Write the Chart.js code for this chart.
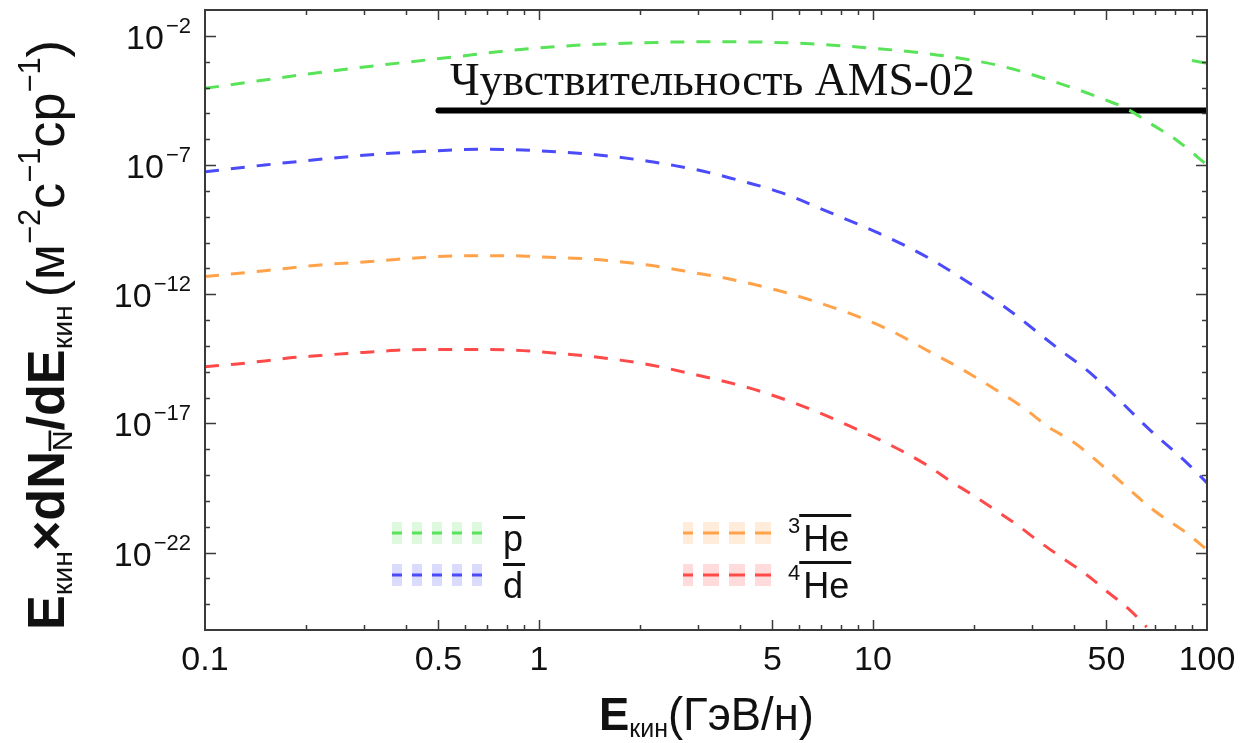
<!DOCTYPE html>
<html>
<head>
<meta charset="utf-8">
<script src="https://cdn.jsdelivr.net/npm/chart.js@4.4.1/dist/chart.umd.min.js"></script>
<style>
  html, body { margin: 0; padding: 0; background: #fff; }
  canvas { display: block; }
</style>
</head>
<body>
<canvas id="chart" width="1259" height="743"></canvas>
<script>
// ---------------------------
// Data
// ---------------------------
const xTickVals = [0.1, 0.5, 1, 5, 10, 50, 100];
const xTickText = ["0.1", "0.5", "1", "5", "10", "50", "100"];
const yLabelExps = [-2, -7, -12, -17, -22];

// antiproton
const pbarE = [0.1, 0.143, 0.202, 0.285, 0.40, 0.57, 0.77, 1.26, 2.06, 3.2, 5.5, 9.0, 14.8, 19.9, 24.2, 28.1, 33.9, 40.6, 48.8, 57.5, 68.9, 81.3, 100];
const pbarF = [9.3e-5, 1.78e-4, 3.3e-4, 5.75e-4, 9.5e-4, 1.58e-3, 2.5e-3, 4.2e-3, 5.4e-3, 5.9e-3, 5.4e-3, 3.7e-3, 2.0e-3, 1.12e-3, 6.8e-4, 4.0e-4, 1.9e-4, 8.7e-5, 3.6e-5, 1.5e-5, 3.5e-6, 8.9e-7, 1.0e-7];
// short green stub at the right edge
const pbarStubE = [90.2, 100];
const pbarStubF = [1.1e-3, 8.7e-4];

// antideuteron
const dbarE = [0.1, 0.151, 0.221, 0.323, 0.472, 0.689, 1.0, 1.45, 2.12, 2.49, 2.97, 3.73, 5.34, 7.38, 10.4, 14.7, 17.8, 24.8, 36.3, 43.7, 50.2, 67.5, 87.2, 100];
const dbarF = [5.5e-8, 1.0e-7, 1.66e-7, 2.57e-7, 3.47e-7, 4.07e-7, 3.55e-7, 2.57e-7, 1.41e-7, 1.0e-7, 6.5e-8, 3.16e-8, 8.3e-9, 1.5e-9, 2.3e-10, 2.5e-11, 5.5e-12, 3.2e-13, 6.9e-15, 1.15e-15, 2.3e-16, 5.5e-18, 2.9e-19, 4.9e-20];

// anti-helium-3
const he3E = [0.1, 0.151, 0.221, 0.323, 0.472, 0.689, 0.83, 1.0, 1.45, 2.12, 2.97, 3.6, 5.27, 7.97, 11.2, 14.8, 18.2, 24.2, 28.9, 33.5, 39.8, 52.3, 69.1, 87, 100];
const he3F = [4.8e-12, 8.1e-12, 1.35e-11, 1.9e-11, 2.75e-11, 3.1e-11, 3.1e-11, 2.8e-11, 2.24e-11, 1.35e-11, 6.5e-12, 4.2e-12, 1.32e-12, 2.45e-13, 4.1e-14, 5.8e-15, 1.38e-15, 1.48e-16, 3.2e-17, 7.2e-18, 1.9e-18, 1.0e-19, 4.4e-21, 5.6e-22, 1.26e-22];

// anti-helium-4
const he4E = [0.1, 0.125, 0.151, 0.183, 0.221, 0.266, 0.323, 0.389, 0.472, 0.57, 0.689, 0.83, 1.0, 1.21, 1.45, 1.75, 2.12, 2.5, 2.97, 4.28, 6.04, 8.53, 12.05, 14.5, 17.2, 19.9, 23.5, 27.3, 31.6, 37.0, 43.7, 50.2, 58.8, 66];
const he4F = [1.55e-15, 2.0e-15, 2.6e-15, 3.5e-15, 4.2e-15, 5.1e-15, 5.9e-15, 6.9e-15, 7.2e-15, 7.2e-15, 7.2e-15, 6.9e-15, 5.9e-15, 4.8e-15, 3.8e-15, 2.8e-15, 1.9e-15, 1.23e-15, 7.4e-16, 2.3e-16, 5.1e-17, 7.8e-18, 9.3e-19, 2.4e-19, 5.4e-20, 1.66e-20, 4.0e-21, 1.05e-21, 2.5e-22, 6.0e-23, 1.35e-23, 3.1e-24, 5.9e-25, 1.29e-25];

// AMS-02 sensitivity
const amsE = [0.5, 100];
const amsF = [1.3e-5, 1.3e-5];
const amsLabel = "Чувствительность AMS-02";
const amsLabelE = 0.541;
const amsLabelF = 5.1e-5;

// legend
const legendMain = ["p", "d", "He", "He"];
const legendSup = ["", "", "3", "4"];

// ---------------------------
// Styles
// ---------------------------
const GREEN = "#58e358";
const BLUE = "#4b4bfa";
const ORANGE = "#ffa24a";
const RED = "#ff4a4a";
const SANS = "'Liberation Sans', Arial, sans-serif";
const SERIF = "'Liberation Serif', 'Times New Roman', serif";

const pts = (xs, ys) => xs.map((x, i) => ({ x, y: ys[i] }));

function curve(data, color){
  return {
    data, borderColor: color, borderWidth: 3, borderDash: [14, 12],
    pointRadius: 0, cubicInterpolationMode: "monotone", fill: false
  };
}

// ---------------------------
// Helpers for rich text
// ---------------------------
function segFont(s, k){
  return `${s.b ? "bold " : ""}${(s.s * k).toFixed(2)}px ${SANS}`;
}

function richWidth(ctx, segs, k){
  let w = 0;
  for(const s of segs){
    ctx.font = segFont(s, k);
    w += ctx.measureText(s.t).width;
  }
  return w;
}

function drawRich(ctx, segs, k){
  let x = 0;
  for(const s of segs){
    ctx.font = segFont(s, k);
    const dy = (s.dy || 0) * k;
    ctx.fillText(s.t, x, dy);
    const m = ctx.measureText(s.t);
    if(s.over){
      ctx.fillRect(x, dy - m.actualBoundingBoxAscent - 4 * k, m.width, 2.2 * k);
    }
    x += m.width;
  }
}

const yTitle = [
  { t: "E", b: true, s: 44 },
  { t: "кин", s: 24, dy: 7 },
  { t: "×dN", b: true, s: 44 },
  { t: "N", s: 24, dy: 7, over: true },
  { t: "/dE", b: true, s: 44 },
  { t: "кин ", s: 24, dy: 7 },
  { t: "(м", s: 44 },
  { t: "−2", s: 26, dy: -20 },
  { t: "с", s: 44 },
  { t: "−1", s: 26, dy: -20 },
  { t: "ср", s: 44 },
  { t: "−1", s: 26, dy: -20 },
  { t: ")", s: 44 }
];

const xTitle = [
  { t: "E", b: true, s: 40 },
  { t: "кин", s: 22, dy: 6 },
  { t: "(ГэВ/н)", s: 40 }
];

// ---------------------------
// Frame, ticks, labels
// ---------------------------
const framePlugin = {
  id: "frame",
  afterDatasetsDraw(chart){
    const { ctx, chartArea: a, scales: { x, y } } = chart;
    ctx.save();
    ctx.strokeStyle = "#3a3a3a";
    ctx.lineWidth = 2;
    ctx.strokeRect(a.left, a.top, a.right - a.left, a.bottom - a.top);

    ctx.lineWidth = 1.5;
    ctx.beginPath();
    for(let k = -1; k <= 1; k++){
      for(let n = 1; n <= 9; n++){
        const v = +(n * Math.pow(10, k)).toPrecision(3);
        if(v <= 0.1 || v >= 100) continue;
        const px = Math.round(x.getPixelForValue(v)) + 0.5;
        const len = xTickVals.includes(v) ? 10 : 5;
        ctx.moveTo(px, a.bottom); ctx.lineTo(px, a.bottom - len);
        ctx.moveTo(px, a.top); ctx.lineTo(px, a.top + len);
      }
    }
    for(let e = -24; e <= -2; e++){
      const py = Math.round(y.getPixelForValue(Math.pow(10, e))) + 0.5;
      const len = yLabelExps.includes(e) ? 11 : 5;
      ctx.moveTo(a.left, py); ctx.lineTo(a.left + len, py);
      ctx.moveTo(a.right, py); ctx.lineTo(a.right - len, py);
    }
    ctx.stroke();

    // y tick labels 10^n
    ctx.fillStyle = "#111";
    ctx.textBaseline = "alphabetic";
    for(const e of yLabelExps){
      const py = y.getPixelForValue(Math.pow(10, e));
      const sup = "−" + Math.abs(e);
      ctx.font = `22px ${SANS}`;
      const ws = ctx.measureText(sup).width;
      ctx.textAlign = "left";
      ctx.fillText(sup, 191 - ws, py - 3);
      ctx.font = `34px ${SANS}`;
      const wb = ctx.measureText("10").width;
      ctx.fillText("10", 191 - ws - wb - 2, py + 13);
    }

    // AMS-02 label
    ctx.fillStyle = "#111";
    ctx.font = `42px ${SERIF}`;
    const w0 = ctx.measureText(amsLabel).width;
    ctx.font = `${(42 * 525 / w0).toFixed(2)}px ${SERIF}`;
    ctx.textAlign = "left";
    ctx.fillText(amsLabel, x.getPixelForValue(amsLabelE), y.getPixelForValue(amsLabelF));

    // axis titles
    ctx.fillStyle = "#111";
    let k = 590 / richWidth(ctx, yTitle, 1);
    ctx.save();
    ctx.translate(64, 630);
    ctx.rotate(-Math.PI / 2);
    drawRich(ctx, yTitle, k);
    ctx.restore();

    k = 215 / richWidth(ctx, xTitle, 1);
    ctx.save();
    ctx.translate((a.left + a.right) / 2 - 107, 730);
    drawRich(ctx, xTitle, k);
    ctx.restore();

    ctx.restore();
  }
};

// ---------------------------
// Legend inside plot
// ---------------------------
const legendPlugin = {
  id: "innerLegend",
  afterDraw(chart){
    const ctx = chart.ctx;
    const ds = chart.data.datasets;
    const slots = [
      { x0: 392, x1: 482, y: 533, base: 551, over: 516, dash: [10, 10], off: 0, lx: 503 },
      { x0: 392, x1: 482, y: 575, base: 598, over: 563, dash: [10, 10], off: 0, lx: 503 },
      { x0: 683, x1: 772, y: 533, base: 551, over: 514, dash: [16, 10], off: 6, lx: 788 },
      { x0: 683, x1: 772, y: 575, base: 598, over: 561, dash: [16, 10], off: 6, lx: 788 }
    ];
    ctx.save();
    slots.forEach((sl, i) => {
      const col = ds[i].borderColor;
      ctx.setLineDash(sl.dash);
      ctx.lineDashOffset = sl.off;
      ctx.lineCap = "butt";
      ctx.globalAlpha = 0.2;
      ctx.strokeStyle = col;
      ctx.lineWidth = 22;
      ctx.beginPath(); ctx.moveTo(sl.x0, sl.y); ctx.lineTo(sl.x1, sl.y); ctx.stroke();
      ctx.globalAlpha = 1;
      ctx.lineWidth = 3;
      ctx.beginPath(); ctx.moveTo(sl.x0, sl.y); ctx.lineTo(sl.x1, sl.y); ctx.stroke();
      ctx.setLineDash([]);

      ctx.fillStyle = "#111";
      ctx.textAlign = "left";
      ctx.textBaseline = "alphabetic";
      let lx = sl.lx;
      if(legendSup[i]){
        ctx.font = `22px ${SANS}`;
        ctx.fillText(legendSup[i], lx, sl.base - 18);
        lx += ctx.measureText(legendSup[i]).width + 3;
      }
      ctx.font = `36px ${SANS}`;
      ctx.fillText(legendMain[i], lx, sl.base);
      const m = ctx.measureText(legendMain[i]);
      const ox = legendSup[i] ? lx - 4 : lx;
      ctx.fillRect(ox, sl.over, m.width + (lx - ox) + 2, 3);
    });
    ctx.restore();
  }
};

// ---------------------------
// Chart
// ---------------------------
const amsLine = {
  data: pts(amsE, amsF), borderColor: "#000", borderWidth: 6,
  borderCapStyle: "round", pointRadius: 0, fill: false
};
const stub = {
  data: pts(pbarStubE, pbarStubF), borderColor: GREEN, borderWidth: 3,
  pointRadius: 0, fill: false
};

const chart = new Chart(document.getElementById("chart"), {
  type: "line",
  data: {
    datasets: [
      curve(pts(pbarE, pbarF), GREEN),
      curve(pts(dbarE, dbarF), BLUE),
      curve(pts(he3E, he3F), ORANGE),
      curve(pts(he4E, he4F), RED),
      stub,
      amsLine
    ]
  },
  options: {
    responsive: false,
    animation: false,
    layout: { padding: { top: 10, right: 52, left: 0, bottom: 0 } },
    plugins: { legend: { display: false }, tooltip: { enabled: false } },
    scales: {
      x: {
        type: "logarithmic", min: 0.1, max: 100,
        afterFit: s => { s.height = 113; },
        afterBuildTicks: s => { s.ticks = xTickVals.map(v => ({ value: v })); },
        grid: { display: false, drawTicks: false },
        border: { display: false },
        ticks: {
          font: { family: SANS, size: 34 }, color: "#111", padding: 10,
          maxRotation: 0, autoSkip: false,
          callback: v => { const i = xTickVals.indexOf(v); return i < 0 ? "" : xTickText[i]; }
        }
      },
      y: {
        type: "logarithmic", min: 1e-25, max: 1e-1,
        afterFit: s => { s.width = 205; },
        grid: { display: false, drawTicks: false },
        border: { display: false },
        ticks: { display: false }
      }
    }
  },
  plugins: [framePlugin, legendPlugin]
});
</script>
</body>
</html>
